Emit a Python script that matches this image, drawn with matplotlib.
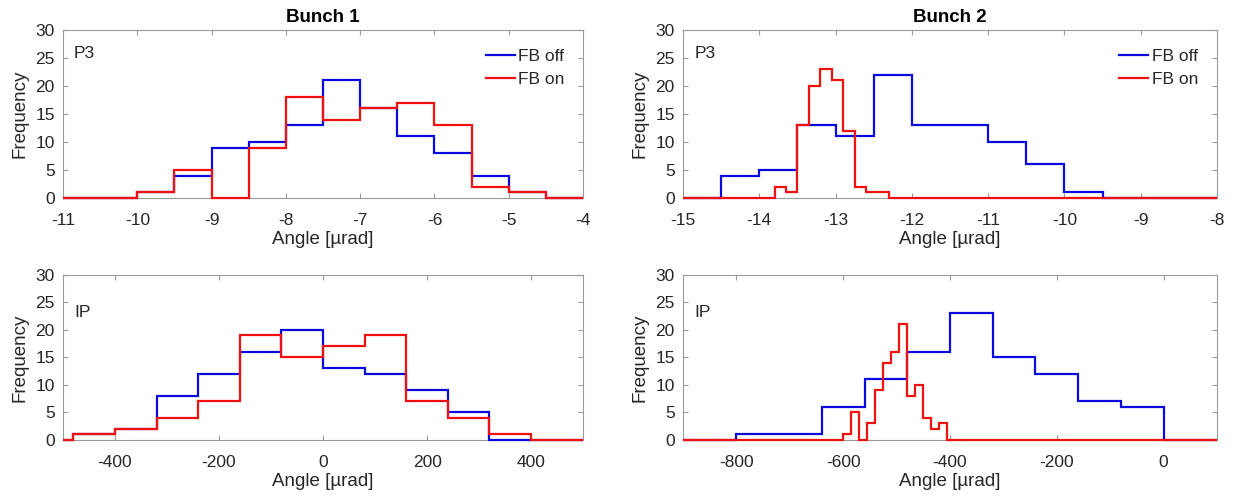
import matplotlib
matplotlib.use("Agg")
import matplotlib.pyplot as plt

# =====================================================
# Data
# =====================================================

# Bunch 1, P3
b1_p3_edges = [-11, -10, -9.5, -9, -8.5, -8, -7.5, -7, -6.5, -6, -5.5, -5, -4.5, -4]
b1_p3_off = [0, 1, 4, 9, 10, 13, 21, 16, 11, 8, 4, 1, 0]
b1_p3_on = [0, 1, 5, 0, 9, 18, 14, 16, 17, 13, 2, 1, 0]

# Bunch 2, P3
b2_p3_off_edges = [-15, -14.5, -14, -13.5, -13, -12.5, -12, -11.5, -11, -10.5, -10, -9.5, -8]
b2_p3_off = [0, 4, 5, 13, 11, 22, 13, 13, 10, 6, 1, 0]

b2_p3_on_edges = [-15, -13.8, -13.65, -13.5, -13.35, -13.2, -13.05, -12.9,
                  -12.75, -12.6, -12.45, -12.3, -8]
b2_p3_on = [0, 2, 1, 13, 20, 23, 21, 12, 2, 1, 1, 0]

# Bunch 1, IP
b1_ip_edges = [-500, -480, -400, -320, -240, -160, -80, 0, 80, 160, 240, 320, 400, 500]
b1_ip_off = [0, 1, 2, 8, 12, 16, 20, 13, 12, 9, 5, 0, 0]
b1_ip_on = [0, 1, 2, 4, 7, 19, 15, 17, 19, 7, 4, 1, 0]

# Bunch 2, IP
b2_ip_off_edges = [-900, -800, -720, -640, -560, -480, -400, -320, -240, -160, -80, 0, 100]
b2_ip_off = [0, 1, 1, 6, 11, 16, 23, 15, 12, 7, 6, 0]

b2_ip_on_edges = [-900, -600, -585, -570, -555, -540, -525, -510, -495, -480,
                  -465, -450, -435, -420, -405, 100]
b2_ip_on = [0, 1, 5, 0, 3, 9, 14, 16, 21, 8, 10, 4, 2, 3, 0]

# =====================================================
# Style
# =====================================================

plt.rcParams["font.family"] = ["Liberation Sans", "DejaVu Sans"]
plt.rcParams["axes.unicode_minus"] = False

text_col = "#262626"
spine_col = "#9a9a9a"
blue = "#0a0adc"
red = "#f01010"
lw = 1.6

fig = plt.figure(figsize=(12.34, 4.97), dpi=100)

ax_b1_p3 = fig.add_axes([0.0511, 0.6016, 0.4214, 0.338])
ax_b2_p3 = fig.add_axes([0.5535, 0.6016, 0.4327, 0.338])
ax_b1_ip = fig.add_axes([0.0511, 0.1147, 0.4214, 0.332])
ax_b2_ip = fig.add_axes([0.5535, 0.1147, 0.4327, 0.332])


def style_axes(ax, xlim, xticks, tag, tag_y):

    ax.set_xlim(xlim)
    ax.set_ylim(0, 30)
    ax.set_xticks(xticks)
    ax.set_yticks([0, 5, 10, 15, 20, 25, 30])

    ax.tick_params(
        direction="in",
        top=True,
        right=True,
        length=3.5,
        width=0.8,
        color=spine_col,
        labelsize=12.5,
        labelcolor=text_col
    )
    ax.tick_params(axis="x", pad=11)
    ax.tick_params(axis="y", pad=6)

    for s in ax.spines.values():
        s.set_color(spine_col)
        s.set_linewidth(0.8)

    ax.set_xlabel("Angle [µrad]", fontsize=13.5, color=text_col, labelpad=2)
    ax.set_ylabel("Frequency", fontsize=13.5, color=text_col, labelpad=5)

    ax.text(
        0.021, tag_y, tag,
        transform=ax.transAxes,
        fontsize=12.5,
        color=text_col,
        va="center"
    )


def draw(ax, off, off_edges, on, on_edges, labels=True):

    ax.stairs(off, off_edges, color=blue, lw=lw, clip_on=False, zorder=3,
              label="FB off" if labels else None)
    ax.stairs(on, on_edges, color=red, lw=lw, clip_on=False, zorder=4,
              label="FB on" if labels else None)


# =====================================================
# Panels
# =====================================================

draw(ax_b1_p3, b1_p3_off, b1_p3_edges, b1_p3_on, b1_p3_edges)
style_axes(ax_b1_p3, (-11, -4), range(-11, -3), "P3", 0.86)
ax_b1_p3.set_title("Bunch 1", fontsize=13.5, fontweight="bold", color="black", pad=6)

draw(ax_b2_p3, b2_p3_off, b2_p3_off_edges, b2_p3_on, b2_p3_on_edges)
style_axes(ax_b2_p3, (-15, -8), range(-15, -7), "P3", 0.86)
ax_b2_p3.set_title("Bunch 2", fontsize=13.5, fontweight="bold", color="black", pad=6)

draw(ax_b1_ip, b1_ip_off, b1_ip_edges, b1_ip_on, b1_ip_edges, labels=False)
style_axes(ax_b1_ip, (-500, 500), [-400, -200, 0, 200, 400], "IP", 0.77)

draw(ax_b2_ip, b2_ip_off, b2_ip_off_edges, b2_ip_on, b2_ip_on_edges, labels=False)
style_axes(ax_b2_ip, (-900, 100), [-800, -600, -400, -200, 0], "IP", 0.77)

for ax in (ax_b1_p3, ax_b2_p3):

    leg = ax.legend(
        loc="upper right",
        bbox_to_anchor=(0.965, 0.885),
        frameon=False,
        fontsize=12.5,
        handlelength=1.7,
        handletextpad=0.2,
        labelspacing=0.4,
        borderaxespad=0,
        borderpad=0
    )

    for t in leg.get_texts():
        t.set_color(text_col)

    # legend shows plain lines rather than step patches
    for h in leg.legend_handles:
        h.set_linewidth(lw)

fig.savefig("out.png", dpi=100)
